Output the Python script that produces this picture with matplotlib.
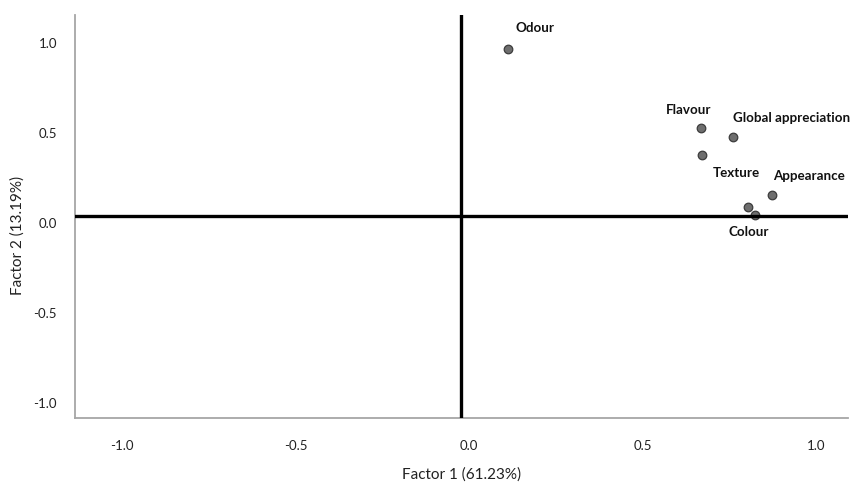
import matplotlib
matplotlib.use("Agg")
import matplotlib.pyplot as plt
import matplotlib.transforms as mtransforms

plt.rcParams['font.family'] = ['Lato', 'DejaVu Sans']

# factor loadings
names = ["Odour", "Flavour", "Global appreciation", "Texture", "Appearance", "Colour", ""]
factor1 = [0.135, 0.692, 0.784, 0.695, 0.896, 0.827, 0.847]
factor2 = [0.928, 0.489, 0.439, 0.339, 0.117, 0.050, 0.006]

ticks = [-1.0, -0.5, 0.0, 0.5, 1.0]
tick_labels = ["-1.0", "-0.5", "0.0", "0.5", "1.0"]

# label offsets in pixels (dx, dy) from each point
label_offsets = [(8, 21), (-35, 18), (0, 19), (11, -18), (1, 19), (-20, -25), (0, 0)]

fig = plt.figure(figsize=(8.53, 4.83), dpi=100)
ax = fig.add_axes([75/853, 65/483, 773/853, 403/483])

ax.set_xlim(-1.112, 1.115)
ax.set_ylim(-1.122, 1.117)

# reference lines sit on top of the markers
ax.axhline(0, color="black", lw=2.4, zorder=4)
ax.axvline(0, color="black", lw=2.4, zorder=4)

ax.scatter(factor1, factor2, s=38, color="#6e6e6e", edgecolor="#3c3c3c",
           linewidth=0.9, zorder=3)

for name, x, y, (dx, dy) in zip(names, factor1, factor2, label_offsets):
    if name:
        ax.annotate(name, (x, y), xytext=(dx * 0.72, dy * 0.72),
                    textcoords="offset points", ha="left", va="center",
                    fontsize=9.6, fontweight="bold", color="#111111")

ax.set_xticks(ticks)
ax.set_xticklabels(tick_labels)
ax.set_yticks(ticks)
ax.set_yticklabels(tick_labels)
ax.tick_params(length=0, labelsize=9.5, colors="#222222")
ax.tick_params(axis="x", pad=16)
ax.tick_params(axis="y", pad=13)

# shift tick labels a little, SPSS style
xshift = mtransforms.ScaledTranslation(0.08, 0, fig.dpi_scale_trans)
yshift = mtransforms.ScaledTranslation(0, -0.07, fig.dpi_scale_trans)
for lbl in ax.get_xticklabels():
    lbl.set_transform(lbl.get_transform() + xshift)
for lbl in ax.get_yticklabels():
    lbl.set_transform(lbl.get_transform() + yshift)

for side in ["top", "right"]:
    ax.spines[side].set_visible(False)
for side in ["left", "bottom"]:
    ax.spines[side].set_color("#a6a6a6")
    ax.spines[side].set_linewidth(1.3)

ax.set_xlabel("Factor 1 (61.23%)", fontsize=11, color="#222222")
ax.set_ylabel("Factor 2 (13.19%)", fontsize=11, color="#222222")
ax.xaxis.set_label_coords(0.5, -0.122)
ax.yaxis.set_label_coords(-0.065, 0.454)

fig.savefig("out.png", dpi=100)
